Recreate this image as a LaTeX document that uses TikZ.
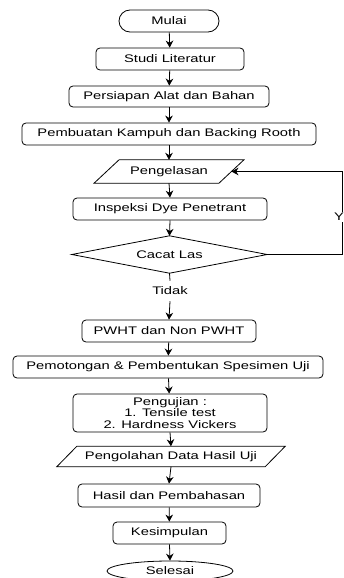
\documentclass[tikz,border=0pt]{standalone}
\usepackage{fontspec}
\setmainfont[FakeStretch=1.34]{Liberation Sans}
\usetikzlibrary{shapes.geometric,arrows.meta}
\begin{document}
\begin{tikzpicture}[x=1pt,y=-1pt,
  txt/.style={font=\fontsize{11}{11.5}\selectfont, text=black},
  box/.style={txt, draw, line width=0.8pt, rounded corners=4pt, inner sep=0pt, align=center},
  para/.style={txt, inner sep=0pt},
  ln/.style={line width=0.8pt},
  arr/.style={ln, -{Stealth[length=7pt,width=7.5pt]}}]
\useasboundingbox (0,0) rectangle (343,578);
\node[box, rounded corners=11pt, minimum width=100pt, minimum height=22pt] (mulai) at (169,21) {Mulai};
\node[box, minimum width=148pt, minimum height=22pt] (studi) at (170,59) {Studi Literatur};
\node[box, minimum width=200pt, minimum height=21pt] (persiapan) at (169,96.5) {Persiapan Alat dan Bahan};
\node[box, minimum width=294pt, minimum height=22pt] (pembuatan) at (169,134) {Pembuatan Kampuh dan Backing Rooth};
\node[para, minimum width=124.5pt, minimum height=23pt] (las) at (169,171.5) {Pengelasan};
\draw[ln] ([xshift=12.5pt]las.north west) -- ([xshift=12.5pt]las.north east) -- ([xshift=-12.5pt]las.south east) -- ([xshift=-12.5pt]las.south west) -- cycle;
\node[box, minimum width=194pt, minimum height=22pt] (inspeksi) at (170,209) {Inspeksi Dye Penetrant};
\node[para, minimum width=195pt, minimum height=37pt] (cacat) at (169.5,254.5) {Cacat Las};
\draw[ln] (cacat.north) -- (cacat.east) -- (cacat.south) -- (cacat.west) -- cycle;
\node[txt, inner sep=6pt] (tidak) at (170,291) {Tidak};
\node[box, minimum width=174pt, minimum height=22pt] (pwht) at (169,331) {PWHT dan Non PWHT};
\node[box, minimum width=310pt, minimum height=22pt] (potong) at (168,367) {Pemotongan \& Pembentukan Spesimen Uji};
\node[box, minimum width=194pt, minimum height=38pt] (uji) at (170,413) {Pengujian :\\1. Tensile test\\2. Hardness Vickers};
\node[para, minimum width=208pt, minimum height=20pt] (olah) at (171,456.5) {Pengolahan Data Hasil Uji};
\draw[ln] ([xshift=10pt]olah.north west) -- ([xshift=10pt]olah.north east) -- ([xshift=-10pt]olah.south east) -- ([xshift=-10pt]olah.south west) -- cycle;
\node[box, minimum width=182pt, minimum height=23pt] (hasil) at (169,495.5) {Hasil dan Pembahasan};
\node[box, minimum width=113pt, minimum height=22pt] (kesimpulan) at (169.5,533) {Kesimpulan};
\node[txt, draw, line width=0.8pt, shape=ellipse, inner sep=0pt, minimum width=126pt, minimum height=20pt] (selesai) at (170,571) {Selesai};
\draw[arr] (mulai) -- (studi);
\draw[arr] (studi) -- (persiapan);
\draw[arr] (persiapan) -- (pembuatan);
\draw[arr] (pembuatan.south) -- (las.north);
\draw[arr] (las.south) -- (inspeksi.north);
\draw[arr] (inspeksi.south) -- (cacat.north);
\draw[ln] (cacat.south) -- (tidak.north);
\draw[arr] (tidak.south) -- (pwht.north);
\draw[arr] (pwht) -- (potong);
\draw[arr] (potong) -- (uji);
\draw[arr] (uji.south) -- (olah.north);
\draw[arr] (olah.south) -- (hasil.north);
\draw[arr] (hasil) -- (kesimpulan);
\draw[arr] (kesimpulan.south) -- (selesai.north);
\coordinate (ur) at (342,171.5);
\draw[arr] (cacat.east) -| (ur) -- (las.east);
\node[txt, fill=white, inner sep=1.5pt] (ya) at (339,217) {Y};
\end{tikzpicture}
\end{document}
